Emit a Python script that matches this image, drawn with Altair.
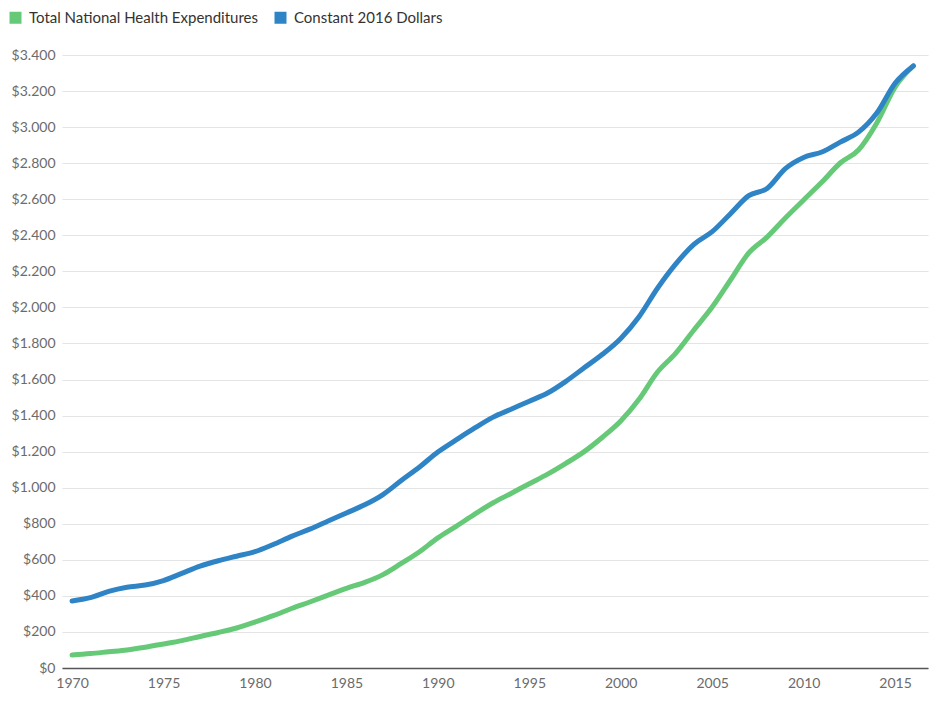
import altair as alt
import pandas as pd

years = list(range(1970, 2017))

total_nhe = [72, 80, 90, 100, 115, 133, 152, 175, 197, 222,
             255, 290, 330, 366, 404, 442, 475, 518, 580, 645,
             722, 786, 852, 915, 968, 1022, 1075, 1135, 1200, 1280,
             1370, 1490, 1640, 1745, 1875, 2002, 2152, 2302, 2390, 2496,
             2596, 2695, 2801, 2873, 3023, 3222, 3340]

constant_2016 = [372, 390, 425, 448, 460, 485, 525, 565, 595, 620,
                 645, 685, 730, 770, 815, 860, 905, 962, 1040, 1115,
                 1198, 1265, 1330, 1390, 1435, 1480, 1525, 1590, 1665, 1740,
                 1828, 1948, 2105, 2240, 2350, 2420, 2520, 2620, 2660, 2770,
                 2832, 2862, 2917, 2972, 3078, 3243, 3339]

series_names = ["Total National Health Expenditures", "Constant 2016 Dollars"]
series_colors = ["#66c977", "#2f84c6"]
tick_years = [1970, 1975, 1980, 1985, 1990, 1995, 2000, 2005, 2010, 2015]
y_ticks = list(range(0, 3401, 200))

df = pd.DataFrame({
    "year": years * 2,
    "value": total_nhe + constant_2016,
    "series": [series_names[0]] * len(years) + [series_names[1]] * len(years),
})

font = "Lato"

chart = alt.Chart(df).mark_line(
    strokeWidth=5, interpolate="monotone", strokeCap="round", strokeJoin="round"
).encode(
    x=alt.X("year:Q",
            scale=alt.Scale(domain=[1969.45, 2016.8], nice=False, zero=False),
            axis=alt.Axis(values=tick_years, format="d", title=None, grid=False,
                          ticks=False, labelPadding=8, labelFontSize=14,
                          labelColor="#6b6b6b", labelFont=font,
                          domainColor="#555555", domainWidth=1.5,
                          labelFlush=False)),
    y=alt.Y("value:Q",
            scale=alt.Scale(domain=[0, 3400], nice=False),
            axis=alt.Axis(values=y_ticks, title=None, ticks=False, domain=False,
                          gridColor="#e4e4e4", gridWidth=1.2,
                          labelPadding=7, labelFontSize=14, labelColor="#6b6b6b",
                          labelFont=font,
                          labelExpr='"$" + replace(format(datum.value, ","), ",", ".")')),
    color=alt.Color("series:N",
                    scale=alt.Scale(domain=series_names, range=series_colors),
                    legend=alt.Legend(title=None, orient="none", direction="horizontal",
                                      legendX=-54, legendY=-45,
                                      symbolType="square", symbolSize=4,
                                      symbolStrokeWidth=10,
                                      labelFontSize=15, labelFont=font,
                                      labelColor="#333333", labelLimit=0,
                                      columnPadding=0, labelOffset=6,
                                      symbolOffset=0)),
    order=alt.Order("series:N", sort="descending"),
).properties(
    width=866, height=613,
    autosize=alt.AutoSizeParams(type="none"),
    padding={"left": 54, "top": 47, "right": 8, "bottom": 30},
).configure_view(stroke=None)

chart.save("out.html", embed_options={"renderer": "svg", "actions": False})
